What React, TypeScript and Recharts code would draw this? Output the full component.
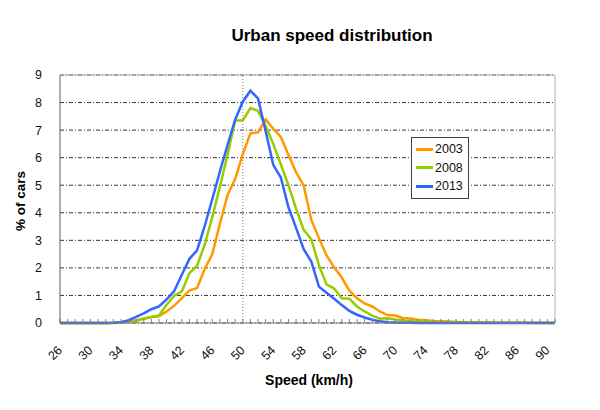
import { LineChart, Line, XAxis, YAxis, CartesianGrid, Legend, ReferenceLine } from "recharts";

/* ── data: share of cars (%) per km/h, 26..91 ─────────────────── */
const speeds = [
  26, 27, 28, 29, 30, 31, 32, 33, 34, 35,
  36, 37, 38, 39, 40, 41, 42, 43, 44, 45,
  46, 47, 48, 49, 50, 51, 52, 53, 54, 55,
  56, 57, 58, 59, 60, 61, 62, 63, 64, 65,
  66, 67, 68, 69, 70, 71, 72, 73, 74, 75,
  76, 77, 78, 79, 80, 81, 82, 83, 84, 85,
  86, 87, 88, 89, 90, 91,
];

const share2003 = [
  0, 0, 0, 0, 0, 0, 0, 0.01, 0.03, 0.06,
  0.1, 0.16, 0.22, 0.24, 0.42, 0.63, 0.9, 1.18, 1.27, 1.96,
  2.5, 3.6, 4.65, 5.22, 6.12, 6.88, 6.92, 7.39, 7.05, 6.75,
  6.1, 5.47, 4.99, 3.74, 3.08, 2.45, 2.02, 1.65, 1.17, 0.9,
  0.71, 0.6, 0.42, 0.29, 0.27, 0.18, 0.16, 0.12, 0.1, 0.07,
  0.06, 0.05, 0.04, 0.03, 0.03, 0.02, 0.02, 0.01, 0.01, 0.01,
  0.01, 0.01, 0.01, 0.01, 0.01, 0.01,
];

const share2008 = [
  0, 0, 0, 0, 0, 0, 0, 0, 0.01, 0.03,
  0.07, 0.15, 0.22, 0.27, 0.66, 0.99, 1.15, 1.81, 2.08, 2.84,
  3.85, 4.95, 6.1, 7.35, 7.35, 7.8, 7.7, 7.16, 6.5, 5.75,
  5.0, 4.15, 3.38, 3.04, 2.1, 1.4, 1.25, 0.9, 0.88, 0.6,
  0.42, 0.27, 0.16, 0.17, 0.13, 0.1, 0.06, 0.05, 0.04, 0.03,
  0.02, 0.02, 0.02, 0.02, 0.02, 0.01, 0.01, 0.01, 0.01, 0.01,
  0.01, 0.01, 0, 0, 0, 0,
];

const share2013 = [
  0, 0, 0, 0, 0, 0, 0, 0.01, 0.03, 0.1,
  0.22, 0.35, 0.5, 0.6, 0.86, 1.16, 1.75, 2.33, 2.64, 3.52,
  4.5, 5.5, 6.46, 7.38, 8.03, 8.43, 8.15, 6.97, 5.74, 5.28,
  4.2, 3.45, 2.68, 2.23, 1.32, 1.1, 0.88, 0.65, 0.44, 0.3,
  0.2, 0.12, 0.06, 0.03, 0.02, 0.01, 0.01, 0, 0, 0,
  0, 0, 0, 0, 0, 0, 0, 0, 0, 0,
  0, 0, 0, 0, 0, 0,
];

const yTicks = [0, 1, 2, 3, 4, 5, 6, 7, 8, 9];

const series = [
  { key: "y2003", name: "2003", color: "#FF9900" },
  { key: "y2008", name: "2008", color: "#99CC00" },
  { key: "y2013", name: "2013", color: "#3366FF" },
];

const data = speeds.map((s, i) => ({
  speed: s,
  y2003: share2003[i],
  y2008: share2008[i],
  y2013: share2013[i],
}));

const FONT = "'Liberation Sans', Arial, sans-serif";

/* only every 4th speed gets a label, every speed gets a tick mark */
function SpeedTick({ x, y, payload }: any) {
  if ((payload.value - 26) % 4 !== 0) return <g />;
  const tx = x + 3;
  const ty = y + 32;
  return (
    <text x={tx} y={ty} transform={`rotate(-45 ${tx} ${ty})`} textAnchor="end" fontSize={12.5} fill="#111" fontFamily={FONT}>
      {payload.value}
    </text>
  );
}

function BoxLegend({ payload }: any) {
  return (
    <div style={{ border: "1px solid #404040", background: "#fff", padding: "2px 5px 2px 4px", fontFamily: FONT, fontSize: 12.5 }}>
      {(payload || []).map((p: any) => (
        <div key={p.value} style={{ display: "flex", alignItems: "center", height: 18.5 }}>
          <span style={{ display: "inline-block", width: 17, height: 3, background: p.color, marginRight: 2 }} />
          <span style={{ color: "#111" }}>{p.value}</span>
        </div>
      ))}
    </div>
  );
}

export default function App() {
  return (
    <div style={{ position: "absolute", left: 0, top: 0, width: 600, height: 410, background: "#fff", fontFamily: FONT }}>
      <div style={{ position: "absolute", left: 132, top: 26, width: 400, textAlign: "center", fontWeight: "bold", fontSize: 17, color: "#000" }}>
        Urban speed distribution
      </div>
      <div
        style={{
          position: "absolute", left: 20, top: 201, transform: "translate(-50%, -50%) rotate(-90deg)",
          whiteSpace: "nowrap", fontWeight: "bold", fontSize: 13.5, color: "#000",
        }}
      >
        % of cars
      </div>
      <div style={{ position: "absolute", left: 209, top: 372, width: 200, textAlign: "center", fontWeight: "bold", fontSize: 14, color: "#000" }}>
        Speed (km/h)
      </div>

      <LineChart width={600} height={410} data={data} margin={{ top: 75, right: 45, bottom: 47, left: 30 }}>
        <CartesianGrid vertical={false} stroke="#000" strokeDasharray="4 2 1 2" strokeWidth={0.8} />
        <XAxis
          dataKey="speed"
          interval={0}
          height={40}
          tick={<SpeedTick />}
          tickSize={-4}
          tickMargin={0}
          tickLine={{ stroke: "#808080" }}
          axisLine={{ stroke: "#808080" }}
        />
        <YAxis
          domain={[0, 9]}
          ticks={yTicks}
          width={30}
          tickLine={false}
          tickMargin={12}
          axisLine={{ stroke: "#606060" }}
          tick={{ fill: "#111", fontSize: 12.5, fontFamily: FONT }}
        />
        <ReferenceLine y={9} stroke="#b0b0b0" />
        <ReferenceLine x={91} stroke="#b0b0b0" />
        <ReferenceLine x={50} stroke="#808080" strokeDasharray="1 2" />
        <Legend
          verticalAlign="middle"
          layout="vertical"
          align="center"
          content={<BoxLegend />}
          wrapperStyle={{ left: 411, top: 137, width: "auto" }}
        />
        {series.map((s) => (
          <Line
            key={s.key}
            dataKey={s.key}
            name={s.name}
            stroke={s.color}
            strokeWidth={2.5}
            dot={false}
            activeDot={false}
            type="linear"
            isAnimationActive={false}
          />
        ))}
      </LineChart>
    </div>
  );
}
